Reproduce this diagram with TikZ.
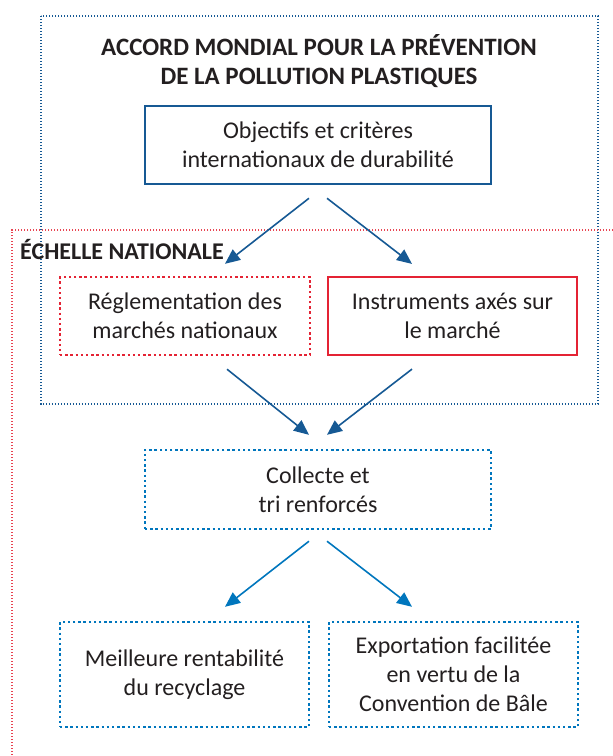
\documentclass[tikz,border=0pt]{standalone}
\usepackage{fontspec}
\setmainfont{Carlito}
\usetikzlibrary{arrows.meta}
\definecolor{bleufonce}{RGB}{22,89,148}
\definecolor{bleuclair}{RGB}{0,118,189}
\definecolor{rouge}{RGB}{228,35,52}
\definecolor{texte}{RGB}{35,31,32}

\begin{document}
\begin{tikzpicture}[x=1pt, y=-1pt,
    every node/.style={text=texte, font=\fontsize{24}{29}\selectfont, align=center, inner sep=0pt},
    boite/.style 2 args={minimum width=#1, minimum height=#2},
    cadrebleu/.style={draw=bleufonce, line width=2.5pt},
    cadrerouge/.style={draw=rouge, line width=2.2pt},
    pointbleu/.style={draw=bleuclair, line width=2.4pt, dash pattern=on 2.4pt off 2.8pt},
    pointrouge/.style={draw=rouge, line width=2.4pt, dash pattern=on 2.4pt off 2.8pt},
    fleche/.style={-{Triangle[length=15pt,width=13pt]}, line width=1.6pt}]
    \useasboundingbox (0,0) rectangle (613,756);

    % cadres exterieurs
    \draw[bleufonce, line width=1.3pt, dash pattern=on 1.3pt off 1.7pt] (41,16) rectangle (598,404);
    \draw[rouge!85, line width=1.3pt, dash pattern=on 1.3pt off 1.7pt] (613,230) -- (12,230) -- (12,756);

    \node[font=\bfseries\fontsize{25}{29}\selectfont] (accord) at (319,61) {ACCORD MONDIAL POUR LA PRÉVENTION\\DE LA POLLUTION PLASTIQUES};
    \node[font=\bfseries\fontsize{24}{29}\selectfont, anchor=base west] (echelle) at (20,259) {ÉCHELLE NATIONALE};

    \node[cadrebleu, boite={346pt}{78pt}] (obj) at (318,145) {Objectifs et critères\\internationaux de durabilité};
    \node[pointrouge, boite={250pt}{78pt}] (regl) at (185,316) {Réglementation des\\marchés nationaux};
    \node[cadrerouge, boite={249pt}{78pt}] (instr) at (452.5,316) {Instruments axés sur\\le marché};
    \node[pointbleu, boite={346pt}{79pt}] (coll) at (318,489.5) {Collecte et\\tri renforcés};
    \node[pointbleu, boite={249pt}{105pt}] (meill) at (184.5,674.5) {Meilleure rentabilité\\du recyclage};
    \node[pointbleu, boite={249pt}{105pt}] (expo) at (453.5,674.5) {Exportation facilitée\\en vertu de la\\Convention de Bâle};

    % fleches
    \draw[fleche, bleufonce] ([xshift=-9pt,yshift=-13pt]obj.south) -- ([xshift=40pt,yshift=12pt]regl.north);
    \draw[fleche, bleufonce] ([xshift=9pt,yshift=-13pt]obj.south) -- ([xshift=-40.5pt,yshift=12pt]instr.north);
    \draw[fleche, bleufonce] ([xshift=42pt,yshift=-13pt]regl.south) -- ([xshift=-9pt,yshift=14pt]coll.north);
    \draw[fleche, bleufonce] ([xshift=-40.5pt,yshift=-13pt]instr.south) -- ([xshift=9pt,yshift=14pt]coll.north);
    \draw[fleche, bleuclair] ([xshift=-9pt,yshift=-11pt]coll.south) -- ([xshift=40.5pt,yshift=14pt]meill.north);
    \draw[fleche, bleuclair] ([xshift=9pt,yshift=-11pt]coll.south) -- ([xshift=-41.5pt,yshift=14pt]expo.north);
\end{tikzpicture}
\end{document}
